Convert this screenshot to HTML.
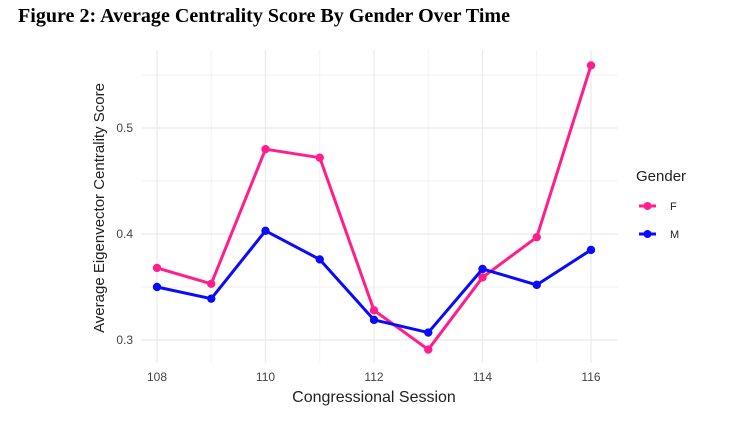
<!DOCTYPE html>
<html><head><meta charset="utf-8"><style>
body{margin:0;background:#fff;}
svg text{font-family:"Liberation Sans",sans-serif;}
</style></head><body>
<svg width="747" height="426" xmlns="http://www.w3.org/2000/svg">
<text x="18" y="22" style="font-family:'Liberation Serif',serif" font-weight="bold" font-size="19.5" textLength="492" lengthAdjust="spacingAndGlyphs" fill="#000">Figure 2: Average Centrality Score By Gender Over Time</text>
<g id="grid"></g>
<g id="axes"></g>
<g id="series"></g>
<text x="374" y="402" text-anchor="middle" font-size="16" fill="#222">Congressional Session</text>
<text transform="translate(104,208) rotate(-90)" text-anchor="middle" font-size="15" fill="#222">Average Eigenvector Centrality Score</text>
<g>
<text x="636" y="181" font-size="15" fill="#222">Gender</text>
<g><line x1="639" y1="206" x2="656" y2="206" stroke="#ff1e8c" stroke-width="3"/><circle cx="647.5" cy="206" r="4" fill="#ff1e8c"/><text x="670" y="210" font-size="11" fill="#222">F</text></g>
<g><line x1="639" y1="234" x2="656" y2="234" stroke="#0a0aff" stroke-width="3"/><circle cx="647.5" cy="234" r="4" fill="#0a0aff"/><text x="670" y="238" font-size="11" fill="#222">M</text></g>
</g>
</svg>
<script>
const sessions=[108,109,110,111,112,113,114,115,116];
const femaleValues=[0.368,0.353,0.480,0.472,0.328,0.291,0.359,0.397,0.559];
const maleValues=[0.350,0.339,0.403,0.376,0.319,0.307,0.367,0.352,0.385];
const xTicks=[108,110,112,114,116];
const yTicks=[0.3,0.4,0.5];
const yMinor=[0.35,0.45,0.55];
const NS="http://www.w3.org/2000/svg";
function xs(v){return 157+(v-108)*(591-157)/8;}
function ys(v){return 340-(v-0.3)*(340-128)/0.2;}
function mk(t,a,p){const e=document.createElementNS(NS,t);for(const k in a)e.setAttribute(k,a[k]);p.appendChild(e);return e;}
const grid=document.getElementById('grid'),axes=document.getElementById('axes'),ser=document.getElementById('series');
yMinor.forEach(v=>{const l=mk('line',{x1:141,x2:618,y1:ys(v),y2:ys(v),stroke:'#f0f0f0','stroke-width':1},grid);

});
sessions.forEach(v=>{const l=mk('line',{x1:xs(v),x2:xs(v),y1:50,y2:363,stroke:(v%2==0)?'#ebebeb':'#f3f3f3','stroke-width':(v%2==0)?1.3:1},grid);

});
yTicks.forEach(v=>{const l=mk('line',{x1:141,x2:618,y1:ys(v),y2:ys(v),stroke:'#ebebeb','stroke-width':1.3},grid);


const t=mk('text',{x:133,y:ys(v)+4,'text-anchor':'end','font-size':12,fill:'#444'},axes);t.textContent=v.toFixed(1);

});
xTicks.forEach(v=>{const t=mk('text',{x:xs(v),y:381,'text-anchor':'middle','font-size':12,fill:'#444'},axes);t.textContent=v;

});
function draw(vals,color,name){
const p=mk('polyline',{points:sessions.map((s,i)=>xs(s)+','+ys(vals[i])).join(' '),fill:'none',stroke:color,'stroke-width':3,'stroke-linejoin':'round'},ser);


sessions.forEach((s,i)=>{const c=mk('circle',{cx:xs(s),cy:ys(vals[i]),r:4.2,fill:color},ser);

});}
draw(femaleValues,'#ff1e8c','female');
draw(maleValues,'#0a0aff','male');
</script>
</body></html>
